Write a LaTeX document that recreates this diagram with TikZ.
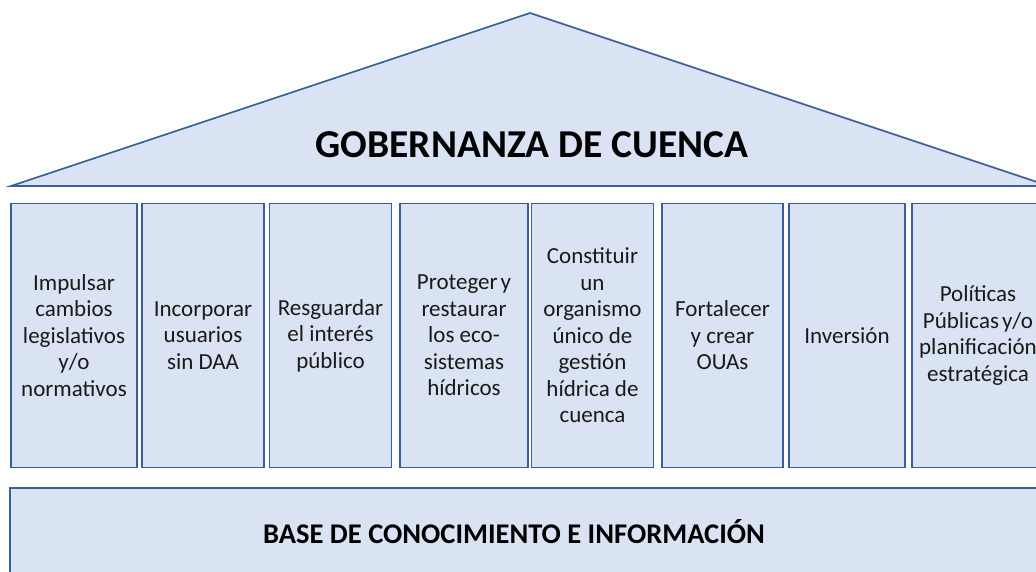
\documentclass[tikz,border=0pt]{standalone}
\usepackage{fontspec}
\setmainfont{Carlito}
\definecolor{fillb}{HTML}{DAE3F3}
\definecolor{lineb}{HTML}{3A5E9C}
\definecolor{txt}{HTML}{1A1A1A}
\tikzset{
  shapebox/.style={draw=lineb, fill=fillb, line width=1.7pt},
  pillar/.style={shapebox, rectangle, inner sep=0pt, minimum height=264pt, align=center, text=txt,
    font=\fontsize{23}{26.5}\selectfont},
}
\begin{document}
\begin{tikzpicture}[x=1pt,y=-1pt]
\useasboundingbox (0,0) rectangle (1036,571);
% roof
\coordinate (rl) at (11,186);
\coordinate (rt) at (530,13);
\coordinate (rr) at (1049,186);
\draw[shapebox, line join=miter] (rl) -- (rt) -- (rr) -- cycle;
\node[font=\fontsize{39.5}{42}\selectfont\bfseries, text=black] (title) at (532,145) {GOBERNANZA DE CUENCA};
% pillars
\node[pillar, minimum width=126pt] (p1) at (74,335.5) {Impulsar\\cambios\\legislativos\\y/o\\normativos};
\node[pillar, minimum width=122pt] (p2) at (203,335.5) {Incorporar\\usuarios\\sin DAA};
\node[pillar, minimum width=122pt] (p3) at (330.5,335.5) {Resguardar\\el interés\\público};
\node[pillar, minimum width=128pt] (p4) at (464,335.5) {Proteger\kern3pt y\\restaurar\\los eco-\\sistemas\\hídricos};
\node[pillar, minimum width=122pt] (p5) at (592.5,335.5) {Constituir\\un\\organismo\\único de\\gestión\\hídrica de\\cuenca};
\node[pillar, minimum width=121pt] (p6) at (722.5,335.5) {Fortalecer\\y crear\\OUAs};
\node[pillar, minimum width=116pt] (p7) at (847,335.5) {Inversión};
\node[pillar, minimum width=132pt] (p8) at (978,335.5) {Políticas\\Públicas\kern3pt y/o\\planificación\\estratégica};
% base
\node[shapebox, rectangle, inner sep=0pt, minimum width=1037pt, minimum height=100pt, anchor=north west] (base) at (9,487) {};
\node[font=\fontsize{28.5}{32}\selectfont\bfseries, text=black] (basetext) at (514,532) {BASE DE CONOCIMIENTO E INFORMACIÓN};
\end{tikzpicture}
\end{document}
